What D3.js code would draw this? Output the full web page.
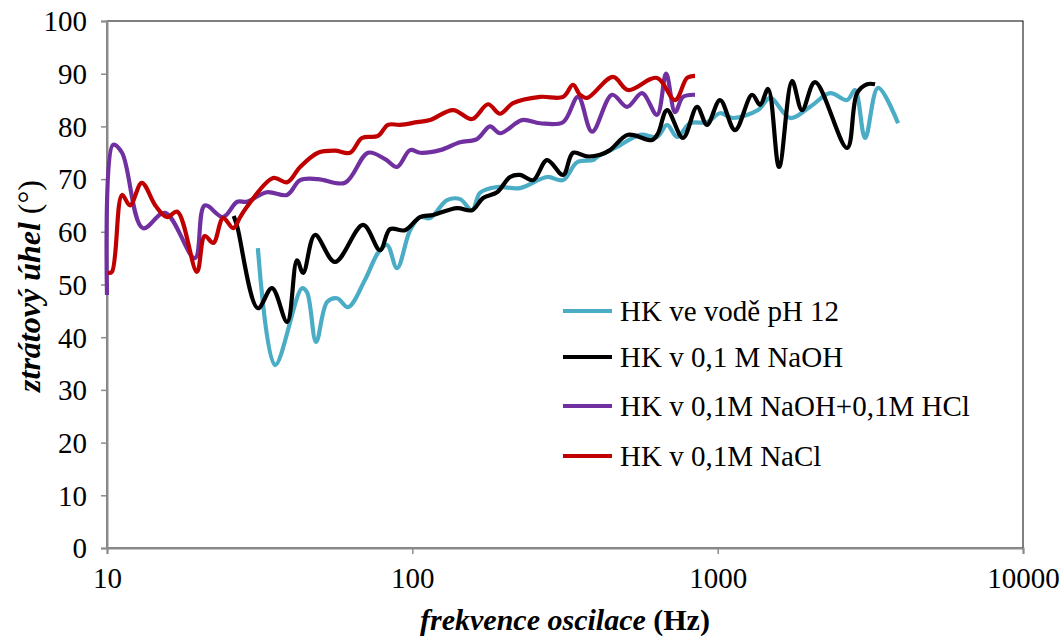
<!DOCTYPE html>
<html><head><meta charset="utf-8">
<script src="https://cdn.jsdelivr.net/npm/d3@7"></script>
<style>body{margin:0;background:#fff}svg{display:block}</style>
</head><body>
<script>
const xTicks = [10, 100, 1000, 10000];
const yTicks = [0,10,20,30,40,50,60,70,80,90,100];
const seriesNames = ["HK ve vodě pH 12","HK v 0,1 M NaOH","HK v 0,1M NaOH+0,1M HCl","HK v 0,1M NaCl"];
const seriesColors = ["#4BACC6","#000000","#7030A0","#C00000"];

const cyanF = [31.2,35.5,43.5,45.2,48.4,52.6,56.7,61.6,70.0,77.2,82.6,89.1,98.3,106,114.3,129.9,143.3,156.9,166.7,189.5,225.3,276.2,311.6,346.4,390.8,402.7,468.3,557,633,683,736.5,812,923,1018,1120,1356,1485,1727,2007,2335,2654,2818,3040,3352,3898];
const cyanV = [56.9,34.7,49.3,48.5,39.1,46.7,47.4,45.7,50.9,56.0,57.5,53.1,60.3,62.8,62.6,66.0,66.2,64.1,67.4,68.5,68.3,70.4,69.8,73.2,73.6,74.2,76.1,78.4,78.0,80.3,78.0,80.6,80.8,82.5,81.6,83.1,85.4,81.6,83.7,86.3,85.0,86.9,77.8,87.3,80.6];

const blackF = [26.0,26.7,31.2,34.7,38.9,41.9,43.9,48.0,55.8,69.0,78.4,84.5,94.6,106,116.9,140.1,156.9,170.5,189.5,208.9,225.3,248.5,276.2,311.6,336,373,412,444,509,610,638,683,770,856,923,1018,1140,1296,1377,1463,1589,1753,1890,2084,2654,2861,3086,3277];
const blackV = [63,61,45.5,49.3,42.9,54.6,52.2,59.4,54.3,61.3,56.5,60.5,60.3,62.8,63.2,64.5,64.1,66.4,67.5,70.4,70.8,69.8,73.6,70.8,75,74.3,74.6,75.5,78.4,77.4,78.7,83.1,77.8,83.7,80.3,85,79.3,86,84.1,87.1,72.3,88.6,83.1,88.4,75.9,86.3,88,88];

const purpleF = [10,10.46,11.2,13.1,15.5,19.4,20.9,24.0,26.7,28.7,33.4,38.9,42.9,49.1,60.2,71.6,81.4,89.1,98.3,106,123.3,143.3,162.9,179.7,193.8,228.7,262,311.6,349,387.8,451,505,565.5,633,677.8,725.5,770,843];
const purpleV = [48,76.5,75,60.7,63.6,55,65,62.8,65.7,65.7,67.5,67,69.8,70,69.3,75,73.8,72.3,75.5,75,75.5,77,77.6,80,78.7,81.2,80.6,80.8,85.6,79,86,83.7,86.3,82.2,90,82.7,85.6,86];

const redF = [10.08,10.38,11.2,11.9,13.0,14.4,15.7,17.0,19.7,20.9,22.3,24.0,25.9,27.3,28.7,35.0,38.9,42.9,49.1,55.8,62.5,68.4,77.2,83.2,91.1,103.6,114.3,135.9,156.9,177,193.8,213.7,262,311.6,336,354,373.5,454,509,633,725.5,794,843];
const redV = [52.2,52.4,67,65,69.3,65,62.8,63.8,52.4,59.2,57.9,62.6,60.7,62.8,64.7,70.2,69.4,72.3,75,75.4,75,77.8,78.2,80.3,80.3,80.8,81.2,83.1,81.4,84.2,82.4,84.4,85.6,85.6,87.9,86,85.4,89.4,86.9,89.2,85,89.2,89.6];

const seriesF = [cyanF, blackF, purpleF, redF];
const seriesV = [cyanV, blackV, purpleV, redV];

const W = 1064, H = 637;
const m = {l:107, r:1023, t:21, b:548};
const svg = d3.select("body").append("svg").attr("width", W).attr("height", H);
const x = d3.scaleLog().domain([10,10000]).range([m.l, m.r]);
const y = d3.scaleLinear().domain([0,100]).range([m.b, m.t]);
const font = "'Liberation Serif','Times New Roman',serif";
const fs = 29;

// frame
svg.append("rect").attr("x", m.l).attr("y", m.t).attr("width", m.r-m.l).attr("height", m.b-m.t)
  .attr("fill","none").attr("stroke","#000").attr("stroke-width",1);

// axes
const gy = svg.append("g").attr("transform", `translate(${m.l},0)`)
  .call(d3.axisLeft(y).tickValues(yTicks).tickSize(6).tickPadding(14).tickFormat(d3.format("d")));
const gx = svg.append("g").attr("transform", `translate(0,${m.b})`)
  .call(d3.axisBottom(x).tickValues(xTicks).tickSize(6).tickPadding(13).tickFormat(d3.format("d")));
[gy, gx].forEach(g => {
  g.select(".domain").attr("stroke","#8c8c8c").attr("stroke-width",2);
  g.selectAll(".tick line").attr("stroke","#8c8c8c").attr("stroke-width",1.5);
  g.selectAll(".tick text").attr("font-family", font).attr("font-size", fs).attr("fill","#000");
});
gy.selectAll(".tick text").attr("dy","0.34em");
gx.selectAll(".tick text").attr("dy","0.71em");

// lines
const line = d3.line().curve(d3.curveCatmullRom.alpha(0.5)).x(d => x(d[0])).y(d => y(d[1]));
seriesF.forEach((fsr, i) => {
  const pts = fsr.map((f, j) => [f, seriesV[i][j]]);
  svg.append("path").datum(pts).attr("d", line).attr("fill","none")
    .attr("stroke", seriesColors[i]).attr("stroke-width", 4.2).attr("stroke-linejoin","round");
});

// legend
const lg = svg.append("g");
const legY = [311, 357, 406, 456];
seriesNames.forEach((n, i) => {
  lg.append("line").attr("x1", 563).attr("x2", 612).attr("y1", legY[i]).attr("y2", legY[i])
    .attr("stroke", seriesColors[i]).attr("stroke-width", 4.2);
  lg.append("text").attr("x", 620).attr("y", legY[i]).attr("dy","0.34em")
    .attr("font-family", font).attr("font-size", fs).text(n);
});

// axis titles
const yt = svg.append("text").attr("transform", "translate(40,286) rotate(-90)")
  .attr("text-anchor","middle").attr("font-family", font).attr("font-size", 32);
yt.append("tspan").attr("font-weight","bold").attr("font-style","italic").text("ztrátový úhel ");
yt.append("tspan").text("(°)");
const xt = svg.append("text").attr("x", 565).attr("y", 630)
  .attr("text-anchor","middle").attr("font-family", font).attr("font-size", 30);
xt.append("tspan").attr("font-weight","bold").attr("font-style","italic").text("frekvence oscilace ");
xt.append("tspan").attr("font-weight","bold").text("(Hz)");
</script>
</body></html>
